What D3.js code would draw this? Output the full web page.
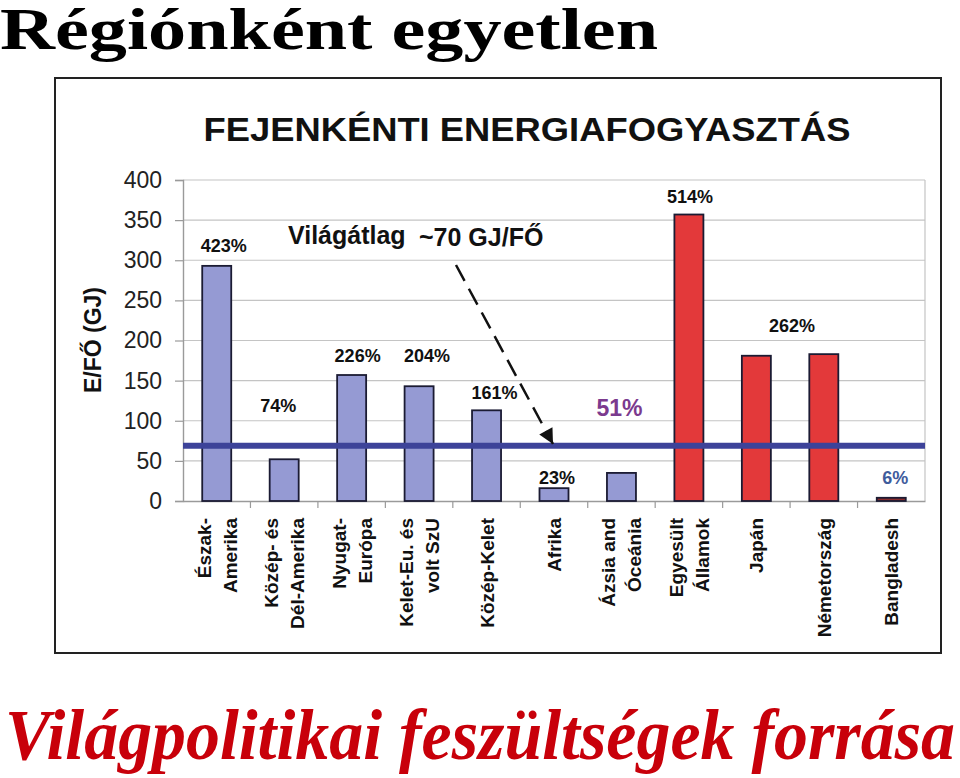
<!DOCTYPE html>
<html>
<head>
<meta charset="utf-8">
<script src="https://cdn.jsdelivr.net/npm/d3@7"></script>
<style>
  body { margin: 0; background: #fff; }
  svg { display: block; }
</style>
</head>
<body>
<div id="chart"></div>
<script>
// data (GJ per capita)
const categories = [
  ["Észak-", "Amerika"],
  ["Közép- és", "Dél-Amerika"],
  ["Nyugat-", "Európa"],
  ["Kelet-Eu. és", "volt SzU"],
  ["Közép-Kelet"],
  ["Afrika"],
  ["Ázsia and", "Óceánia"],
  ["Egyesült", "Államok"],
  ["Japán"],
  ["Németország"],
  ["Bangladesh"]
];
const values = [293, 52, 157, 143, 113, 16, 35, 357, 181, 183, 4];
const groups = ["region", "region", "region", "region", "region", "region", "region", "country", "country", "country", "poor"];
const yTicks = [0, 50, 100, 150, 200, 250, 300, 350, 400];
const worldAverage = 69;

// percentage notes: text, category index, level (GJ) where the text sits
const pctText = ["423%", "74%", "226%", "204%", "161%", "23%", "51%", "514%", "262%", "6%"];
const pctCat = [0, 1, 2, 3, 4, 5, 6, 7, 8.5, 10];
const pctLevel = [310, 111, 173, 173, 127, 21, 106, 371, 211, 21];

const W = 960, H = 778;
const svg = d3.select("#chart").append("svg")
  .attr("width", W)
  .attr("height", H);

// headline
svg.append("text")
  .attr("x", 0)
  .attr("y", 49)
  .attr("font-family", "'Liberation Serif', 'Times New Roman', serif")
  .attr("font-weight", "bold")
  .attr("font-size", 59)
  .attr("textLength", 658)
  .attr("lengthAdjust", "spacingAndGlyphs")
  .text("Régiónként egyetlen");

svg.append("text")
  .attr("x", 5)
  .attr("y", 759)
  .attr("fill", "#c8000a")
  .attr("font-family", "'Liberation Serif', 'Times New Roman', serif")
  .attr("font-weight", "bold")
  .attr("font-style", "italic")
  .attr("font-size", 71)
  .attr("textLength", 950)
  .attr("lengthAdjust", "spacingAndGlyphs")
  .text("Világpolitikai feszültségek forrása");

// chart frame
svg.append("rect")
  .attr("x", 55)
  .attr("y", 78)
  .attr("width", 886)
  .attr("height", 575)
  .attr("fill", "#fff")
  .attr("stroke", "#222")
  .attr("stroke-width", 2);

svg.append("text")
  .attr("x", 527)
  .attr("y", 141)
  .attr("text-anchor", "middle")
  .attr("font-family", "'Liberation Sans', Arial, sans-serif")
  .attr("font-weight", "bold")
  .attr("font-size", 33)
  .attr("textLength", 647)
  .attr("lengthAdjust", "spacingAndGlyphs")
  .attr("fill", "#111")
  .text("FEJENKÉNTI ENERGIAFOGYASZTÁS");

const plot = { left: 183, right: 925, top: 180, bottom: 501 };

const names = categories.map(c => c.join(" "));
const x = d3.scaleBand()
  .domain(names)
  .range([plot.left, plot.right])
  .padding(0);

const y = d3.scaleLinear()
  .domain([0, 400])
  .range([plot.bottom, plot.top]);

const colors = { region: "#959ad3", country: "#e3393a", poor: "#8b2c2c" };

// gridlines
svg.append("g")
  .selectAll("line")
  .data(yTicks.filter(t => t > 0))
  .enter().append("line")
  .attr("x1", plot.left)
  .attr("x2", plot.right)
  .attr("y1", d => y(d))
  .attr("y2", d => y(d))
  .attr("stroke", "#c4c4c4")
  .attr("stroke-width", 1.2);

// right border of plot area
svg.append("line")
  .attr("x1", plot.right).attr("x2", plot.right)
  .attr("y1", plot.top).attr("y2", plot.bottom)
  .attr("stroke", "#c4c4c4")
  .attr("stroke-width", 1.2);

// y axis
const yAxis = svg.append("g")
  .attr("transform", `translate(${plot.left},0)`)
  .call(d3.axisLeft(y).tickValues(yTicks).tickSize(8).tickPadding(13));
yAxis.select(".domain").attr("stroke", "#9a9a9a").attr("stroke-width", 1.4);
yAxis.selectAll(".tick line").attr("stroke", "#9a9a9a").attr("stroke-width", 1.2);
yAxis.selectAll(".tick text")
  .attr("font-family", "'Liberation Sans', Arial, sans-serif")
  .attr("font-size", 23)
  .attr("fill", "#222");

// x axis (ticks between categories)
const xAxis = svg.append("g")
  .attr("transform", `translate(0,${plot.bottom})`)
  .call(d3.axisBottom(x).tickSize(0).tickFormat(""));
xAxis.select(".domain").attr("stroke", "#9a9a9a").attr("stroke-width", 1.4);
svg.append("g")
  .selectAll("line")
  .data(names.slice(1))
  .enter().append("line")
  .attr("x1", d => x(d))
  .attr("x2", d => x(d))
  .attr("y1", plot.bottom)
  .attr("y2", plot.bottom + 7)
  .attr("stroke", "#9a9a9a")
  .attr("stroke-width", 1.2);

// bars
const barW = x.bandwidth() * 0.43;
svg.append("g")
  .selectAll("rect")
  .data(values)
  .enter().append("rect")
  .attr("x", (d, i) => x(names[i]) + (x.bandwidth() - barW) / 2)
  .attr("y", d => y(d))
  .attr("width", barW)
  .attr("height", d => y(0) - y(d))
  .attr("fill", (d, i) => colors[groups[i]])
  .attr("stroke", "#1b1b33")
  .attr("stroke-width", 1.8);

// world average line
svg.append("line")
  .attr("x1", plot.left)
  .attr("x2", plot.right)
  .attr("y1", y(worldAverage))
  .attr("y2", y(worldAverage))
  .attr("stroke", "#3d4399")
  .attr("stroke-width", 6);

// category labels, rotated
const catG = svg.append("g")
  .attr("font-family", "'Liberation Sans', Arial, sans-serif")
  .attr("font-weight", "bold")
  .attr("font-size", 19)
  .attr("fill", "#111");
categories.forEach((lines, i) => {
  const cx = x(names[i]) + x.bandwidth() / 2;
  lines.forEach((line, j) => {
    const off = (j - (lines.length - 1) / 2) * 26;
    catG.append("text")
      .attr("transform", `translate(${cx + off + 7},518) rotate(-90)`)
      .attr("text-anchor", "end")
      .text(line);
  });
});

// y axis title
svg.append("text")
  .attr("transform", "translate(101,340) rotate(-90)")
  .attr("text-anchor", "middle")
  .attr("font-family", "'Liberation Sans', Arial, sans-serif")
  .attr("font-weight", "bold")
  .attr("font-size", 23)
  .attr("fill", "#111")
  .text("E/FŐ (GJ)");

// percentage notes
const pctShift = [7, -6, 6, 8, 8, 3, -2, 1, 2, 4];
const pctColor = ["#111", "#111", "#111", "#111", "#111", "#111", "#7b3a8e", "#111", "#111", "#3f5c9c"];
const pctSize = [18, 18, 18, 18, 18, 18, 23, 18, 18, 18];
svg.append("g")
  .attr("font-family", "'Liberation Sans', Arial, sans-serif")
  .attr("font-weight", "bold")
  .attr("text-anchor", "middle")
  .selectAll("text")
  .data(pctText)
  .enter().append("text")
  .attr("x", (d, i) => plot.left + x.step() * (pctCat[i] + 0.5) + pctShift[i])
  .attr("y", (d, i) => y(pctLevel[i]))
  .attr("font-size", (d, i) => pctSize[i])
  .attr("fill", (d, i) => pctColor[i])
  .text(d => d);

// world average annotation
const noteG = svg.append("g")
  .attr("font-family", "'Liberation Sans', Arial, sans-serif")
  .attr("font-weight", "bold")
  .attr("font-size", 25)
  .attr("fill", "#111");
noteG.append("text").attr("x", 288).attr("y", 244).text("Világátlag");
noteG.append("text").attr("x", 419).attr("y", 246).text("~70 GJ/FŐ");

// dashed arrow pointing at the average line
svg.append("defs").append("marker")
  .attr("id", "head")
  .attr("viewBox", "0 0 10 10")
  .attr("refX", 10)
  .attr("refY", 5)
  .attr("markerWidth", 7)
  .attr("markerHeight", 6)
  .attr("markerUnits", "strokeWidth")
  .attr("orient", "auto")
  .append("path")
  .attr("d", "M0,0L10,5L0,10Z")
  .attr("fill", "#111");

svg.append("line")
  .attr("x1", 456)
  .attr("y1", 265)
  .attr("x2", 553)
  .attr("y2", 444)
  .attr("stroke", "#111")
  .attr("stroke-width", 2.5)
  .attr("stroke-dasharray", "18,9")
  .attr("marker-end", "url(#head)");
</script>
</body>
</html>
